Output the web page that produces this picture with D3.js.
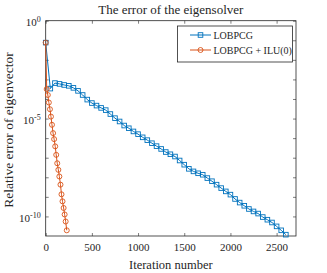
<!DOCTYPE html>
<html>
<head>
<meta charset="utf-8">
<script src="https://cdn.jsdelivr.net/npm/d3@7"></script>
<style>
  body { margin: 0; background: #fff; }
  svg text { font-family: "Liberation Serif", "Times New Roman", serif; fill: #262626; }
</style>
</head>
<body>
<div id="chart"></div>
<script>
// LOBPCG, markers every 50 iterations
const lobIter = [0, 50, 100, 150, 200, 250, 300, 350, 400, 450, 500, 550, 600, 650, 700, 750, 800, 850, 900, 950,
  1000, 1050, 1100, 1150, 1200, 1250, 1300, 1350, 1400, 1450, 1500, 1550, 1600, 1650, 1700, 1750, 1800, 1850, 1900, 1950,
  2000, 2050, 2100, 2150, 2200, 2250, 2300, 2350, 2400, 2450, 2500, 2550, 2600];
const lobErr = [7.6e-2, 3.4e-4, 6.5e-4, 5.9e-4, 5.2e-4, 4.7e-4, 3.7e-4, 2.6e-4, 1.6e-4, 9.3e-5, 6.2e-5, 4.6e-5, 3.5e-5, 2.7e-5, 1.7e-5, 1.05e-5, 7.1e-6, 4.4e-6, 3.2e-6, 2.2e-6,
  1.6e-6, 1.1e-6, 7.9e-7, 5.5e-7, 3.9e-7, 2.8e-7, 1.95e-7, 1.5e-7, 1.15e-7, 7.2e-8, 4.4e-8, 2.7e-8, 2.0e-8, 1.6e-8, 1.35e-8, 9.1e-9, 6.3e-9, 4.2e-9, 2.8e-9, 1.9e-9,
  1.3e-9, 7.8e-10, 5.1e-10, 3.5e-10, 2.4e-10, 1.8e-10, 1.4e-10, 9.3e-11, 6.8e-11, 4.9e-11, 3.1e-11, 1.95e-11, 1.17e-11];

// LOBPCG + ILU(0)
const iluIter = [0, 11, 23, 34, 46, 57, 68, 80, 91, 103, 114, 125, 137, 148, 160, 171, 182, 194, 205, 216, 228];
const iluErr = [7.6e-2, 3.2e-4, 1.6e-4, 6.6e-5, 3.0e-5, 1.26e-5, 4.8e-6, 1.8e-6, 8.9e-7, 3.8e-7, 1.4e-7, 5.2e-8, 2.4e-8, 1.1e-8, 4.2e-9, 1.35e-9, 5.9e-10, 2.7e-10, 1.26e-10, 5.5e-11, 1.95e-11];

const xTicks = [0, 500, 1000, 1500, 2000, 2500];
const yTicks = [1e0, 1e-1, 1e-2, 1e-3, 1e-4, 1e-5, 1e-6, 1e-7, 1e-8, 1e-9, 1e-10];
const yLabelled = {"0": "0", "-5": "-5", "-10": "-10"};
const series = [
  {name: "LOBPCG", x: lobIter, y: lobErr, color: "#0072BD", marker: "square"},
  {name: "LOBPCG + ILU(0)", x: iluIter, y: iluErr, color: "#D95319", marker: "circle"}
];

let w = 327, h = 273;
let pLeft = 45.7, pRight = 296, pTop = 20.7, pBottom = 236;

const svg = d3.select("#chart")
  .append("svg")
  .attr("width", w)
  .attr("height", h);

const xScale = d3.scaleLinear()
  .domain([0, 2710])
  .range([pLeft, pRight]);

const yScale = d3.scaleLog()
  .domain([1e-11, 1])
  .range([pBottom, pTop]);

// axes, ticks pointing inward like matlab
const axisColor = "#262626";
let gx = svg.append("g")
  .attr("transform", "translate(0," + pBottom + ")")
  .call(d3.axisBottom(xScale).tickValues(xTicks).tickSizeInner(-3).tickSizeOuter(0).tickPadding(7).tickFormat(d3.format("d")));
gx.selectAll("text").style("font-size", "11px");

svg.append("g")
  .attr("transform", "translate(0," + pTop + ")")
  .call(d3.axisTop(xScale).tickValues(xTicks).tickSizeInner(-3).tickSizeOuter(0).tickFormat(""));

let gy = svg.append("g")
  .attr("transform", "translate(" + pLeft + ",0)")
  .call(d3.axisLeft(yScale).tickValues(yTicks).tickSizeInner(-3).tickSizeOuter(0).tickPadding(6).tickFormat(""));

svg.append("g")
  .attr("transform", "translate(" + pRight + ",0)")
  .call(d3.axisRight(yScale).tickValues(yTicks).tickSizeInner(-3).tickSizeOuter(0).tickFormat(""));

svg.selectAll(".domain").remove();
svg.selectAll(".tick line").attr("stroke", axisColor).attr("stroke-width", 0.6);

svg.append("rect")
  .attr("x", pLeft).attr("y", pTop)
  .attr("width", pRight - pLeft).attr("height", pBottom - pTop)
  .attr("fill", "none").attr("stroke", axisColor).attr("stroke-width", 0.8);

// y tick labels as 10^k
gy.selectAll(".tick").each(function(d) {
  let k = String(Math.round(Math.log10(d)));
  if (!(k in yLabelled)) return;
  let t = d3.select(this).select("text")
    .attr("x", -5)
    .attr("dy", "0.45em")
    .style("font-size", "11px")
    .attr("text-anchor", "end");
  t.append("tspan").text("10");
  t.append("tspan").attr("dy", "-0.5em").style("font-size", "8px").text(yLabelled[k]);
});

// lines + markers
const line = d3.line()
  .x(d => xScale(d[0]))
  .y(d => yScale(d[1]));

series.forEach(s => {
  let pts = s.x.map((v, i) => [v, s.y[i]]);
  svg.append("path")
    .datum(pts)
    .attr("d", line)
    .attr("fill", "none")
    .attr("stroke", s.color)
    .attr("stroke-width", 1);
  if (s.marker == "square") {
    svg.selectAll(null)
      .data(pts)
      .enter()
      .append("rect")
      .attr("x", d => xScale(d[0]) - 2.3)
      .attr("y", d => yScale(d[1]) - 2.3)
      .attr("width", 4.6)
      .attr("height", 4.6)
      .attr("fill", "none")
      .attr("stroke", s.color)
      .attr("stroke-width", 0.9);
  } else {
    svg.selectAll(null)
      .data(pts)
      .enter()
      .append("circle")
      .attr("cx", d => xScale(d[0]))
      .attr("cy", d => yScale(d[1]))
      .attr("r", 2.5)
      .attr("fill", "none")
      .attr("stroke", s.color)
      .attr("stroke-width", 0.9);
  }
});

// titles
svg.append("text")
  .attr("x", (pLeft + pRight) / 2)
  .attr("y", 14)
  .attr("text-anchor", "middle")
  .style("font-size", "13px")
  .text("The error of the eigensolver");

svg.append("text")
  .attr("x", (pLeft + pRight) / 2)
  .attr("y", 269)
  .attr("text-anchor", "middle")
  .style("font-size", "12.5px")
  .text("Iteration number");

svg.append("text")
  .attr("transform", "translate(13,130) rotate(-90)")
  .attr("text-anchor", "middle")
  .style("font-size", "13.5px")
  .text("Relative error of eigenvector");

// legend
let legend = svg.append("g").attr("id", "legend");
legend.append("rect")
  .attr("x", 177.5).attr("y", 26)
  .attr("width", 115).attr("height", 36)
  .attr("fill", "#fff")
  .attr("stroke", axisColor).attr("stroke-width", 0.8);

series.forEach((s, i) => {
  let ly = 35 + i * 15;
  legend.append("line")
    .attr("x1", 190).attr("x2", 211)
    .attr("y1", ly).attr("y2", ly)
    .attr("stroke", s.color).attr("stroke-width", 1);
  if (s.marker == "square") {
    legend.append("rect")
      .attr("x", 200.5 - 2.3).attr("y", ly - 2.3)
      .attr("width", 4.6).attr("height", 4.6)
      .attr("fill", "none").attr("stroke", s.color).attr("stroke-width", 0.9);
  } else {
    legend.append("circle")
      .attr("cx", 200.5).attr("cy", ly).attr("r", 2.5)
      .attr("fill", "none").attr("stroke", s.color).attr("stroke-width", 0.9);
  }
  legend.append("text")
    .attr("x", 213.5)
    .attr("y", ly + 3.5)
    .style("font-size", "10px")
    .text(s.name);
});
</script>
</body>
</html>
